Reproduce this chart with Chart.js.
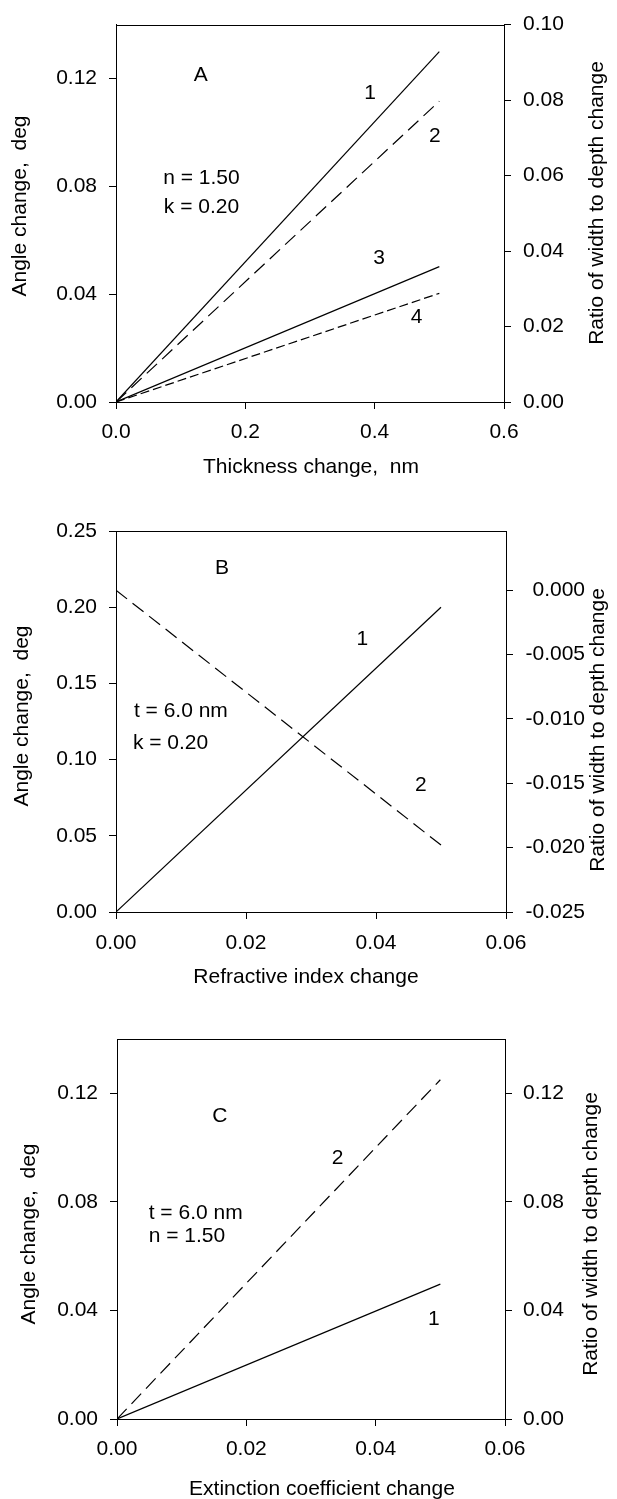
<!DOCTYPE html>
<html>
<head>
<meta charset="utf-8">
<script src="https://cdn.jsdelivr.net/npm/chart.js@4/dist/chart.umd.min.js"></script>
<style>
  html, body { margin: 0; padding: 0; background: #fff; }
  body { width: 617px; height: 1499px; overflow: hidden; position: relative; }
  canvas { position: absolute; left: 0; }
</style>
</head>
<body>
<canvas id="cA" width="617" height="500" style="top:0px"></canvas>
<canvas id="cB" width="617" height="500" style="top:500px"></canvas>
<canvas id="cC" width="617" height="499" style="top:1000px"></canvas>
<script>
// ===== Panel A : thickness change =====
const aX = [0, 0.5];
const aCurve1 = [0, 0.130];   // 1 – angle change (solid)
const aCurve2 = [0, 0.0797];  // 2 – ratio of width to depth change (dashed)
const aCurve3 = [0, 0.0502];  // 3 – angle change (solid)
const aCurve4 = [0, 0.0288];  // 4 – ratio of width to depth change (short dash)
const aXTicks = [0, 0.2, 0.4, 0.6];
const aLeftTicks = [0, 0.04, 0.08, 0.12];
const aRightTicks = [0, 0.02, 0.04, 0.06, 0.08, 0.10];

// ===== Panel B : refractive index change =====
const bX = [0, 0.05];
const bCurve1 = [0, 0.200];    // 1 – angle change (solid)
const bCurve2 = [0, -0.0198];  // 2 – ratio of width to depth change (dashed)
const bXTicks = [0, 0.02, 0.04, 0.06];
const bLeftTicks = [0, 0.05, 0.10, 0.15, 0.20, 0.25];
const bRightTicks = [-0.025, -0.020, -0.015, -0.010, -0.005, 0.000];

// ===== Panel C : extinction coefficient change =====
const cX = [0, 0.05];
const cCurve1 = [0, 0.0497];   // 1 – angle change (solid)
const cCurve2 = [0, 0.125];    // 2 – ratio of width to depth change (dashed)
const cXTicks = [0, 0.02, 0.04, 0.06];
const cLeftTicks = [0, 0.04, 0.08, 0.12];
const cRightTicks = [0, 0.04, 0.08, 0.12];

const FONT = '"Liberation Sans", Arial, Helvetica, sans-serif';
Chart.defaults.font.family = FONT;
Chart.defaults.font.size = 21;
Chart.defaults.color = '#000';

function pts(xs, ys) { return xs.map((x, i) => ({ x: x, y: ys[i] })); }

function axis(o) {
  return {
    type: 'linear',
    position: o.position,
    min: o.min, max: o.max,
    afterBuildTicks: s => { s.ticks = o.ticks.map(v => ({ value: v })); },
    afterFit: s => {
      if (o.width != null) s.width = o.width;
      if (o.height != null) s.height = o.height;
    },
    ticks: {
      callback: v => Number(v).toFixed(o.dec),
      color: '#000',
      font: { size: 21, family: FONT },
      padding: o.pad,
      crossAlign: o.crossAlign || 'near',
      autoSkip: false, maxRotation: 0, minRotation: 0
    },
    grid: { display: true, drawOnChartArea: false, drawTicks: true, tickLength: 7, color: '#000', lineWidth: 1 },
    border: { display: true, color: '#000', width: 1 },
    title: { display: false }
  };
}

function line(xs, ys, yAxisID, dash) {
  return {
    data: pts(xs, ys), yAxisID: yAxisID, xAxisID: 'x',
    borderColor: '#000', borderWidth: 1.2, borderDash: dash || [],
    pointRadius: 0, tension: 0, fill: false
  };
}

function decor(texts) {
  return {
    id: 'decor',
    afterDraw(chart) {
      const ctx = chart.ctx, a = chart.chartArea;
      ctx.save();
      ctx.strokeStyle = '#000'; ctx.lineWidth = 1;
      ctx.beginPath();
      ctx.moveTo(Math.round(a.left), Math.round(a.top) + 0.5);
      ctx.lineTo(Math.round(a.right) + 1, Math.round(a.top) + 0.5);
      ctx.stroke();
      ctx.fillStyle = '#000';
      ctx.font = '21px ' + FONT;
      ctx.textBaseline = 'middle';
      for (const t of texts) {
        let x = t.x, y = t.y;
        if (t.data) {
          x = chart.scales.x.getPixelForValue(t.x);
          y = chart.scales.yL.getPixelForValue(t.y);
        }
        ctx.save();
        ctx.translate(x, y);
        if (t.rot) ctx.rotate(t.rot);
        ctx.textAlign = t.align || 'center';
        ctx.fillText(t.text, 0, 0);
        ctx.restore();
      }
      ctx.restore();
    }
  };
}

const R = -Math.PI / 2;

function makeChart(id, cfg) {
  return new Chart(document.getElementById(id), {
    type: 'line',
    data: { datasets: cfg.datasets },
    options: {
      responsive: false, animation: false, devicePixelRatio: 1,
      layout: { padding: cfg.padding },
      plugins: { legend: { display: false }, tooltip: { enabled: false }, title: { display: false } },
      scales: cfg.scales
    },
    plugins: [decor(cfg.texts)]
  });
}

// Panel A
makeChart('cA', {
  padding: { top: 22, left: 0, right: 0, bottom: 0 },
  datasets: [
    line(aX, aCurve1, 'yL'),
    line(aX, aCurve2, 'yR', [14, 7]),
    line(aX, aCurve3, 'yL'),
    line(aX, aCurve4, 'yR', [9, 4])
  ],
  scales: {
    x: axis({ position: 'bottom', min: 0, max: 0.6, ticks: aXTicks, dec: 1, pad: 11, height: 98 }),
    yL: axis({ position: 'left', min: 0, max: 0.14, ticks: aLeftTicks, dec: 2, pad: 12, width: 116 }),
    yR: axis({ position: 'right', min: 0, max: 0.10, ticks: aRightTicks, dec: 2, pad: 12, width: 113 })
  },
  texts: [
    { data: true, x: 0.131, y: 0.1212, text: 'A' },
    { data: true, x: 0.073, y: 0.0829, text: 'n = 1.50', align: 'left' },
    { data: true, x: 0.074, y: 0.0722, text: 'k = 0.20', align: 'left' },
    { data: true, x: 0.393, y: 0.1146, text: '1' },
    { data: true, x: 0.493, y: 0.0987, text: '2' },
    { data: true, x: 0.407, y: 0.0534, text: '3' },
    { data: true, x: 0.465, y: 0.0316, text: '4' },
    { x: 311, y: 467, text: 'Thickness change,  nm' },
    { x: 20, y: 206, rot: R, text: 'Angle change,  deg' },
    { x: 597, y: 203, rot: R, text: 'Ratio of width to depth change' }
  ]
});

// Panel B
makeChart('cB', {
  padding: { top: 31, left: 0, right: 32, bottom: 0 },
  datasets: [
    line(bX, bCurve1, 'yL'),
    line(bX, bCurve2, 'yR', [14, 7])
  ],
  scales: {
    x: axis({ position: 'bottom', min: 0, max: 0.06, ticks: bXTicks, dec: 2, pad: 12, height: 88 }),
    yL: axis({ position: 'left', min: 0, max: 0.25, ticks: bLeftTicks, dec: 2, pad: 12, width: 116 }),
    yR: axis({ position: 'right', min: -0.025, max: 0.0046, ticks: bRightTicks, dec: 3, pad: 12, width: 79, crossAlign: 'far' })
  },
  texts: [
    { data: true, x: 0.0163, y: 0.2257, text: 'B' },
    { data: true, x: 0.00275, y: 0.1319, text: 't = 6.0 nm', align: 'left' },
    { data: true, x: 0.0026, y: 0.1107, text: 'k = 0.20', align: 'left' },
    { data: true, x: 0.0379, y: 0.1789, text: '1' },
    { data: true, x: 0.0469, y: 0.0833, text: '2' },
    { x: 306, y: 477, text: 'Refractive index change' },
    { x: 22, y: 216, rot: R, text: 'Angle change,  deg' },
    { x: 598, y: 230, rot: R, text: 'Ratio of width to depth change' }
  ]
});

// Panel C
makeChart('cC', {
  padding: { top: 39, left: 0, right: 0, bottom: 0 },
  datasets: [
    line(cX, cCurve1, 'yL'),
    line(cX, cCurve2, 'yR', [14, 7])
  ],
  scales: {
    x: axis({ position: 'bottom', min: 0, max: 0.06, ticks: cXTicks, dec: 2, pad: 11, height: 80 }),
    yL: axis({ position: 'left', min: 0, max: 0.14, ticks: cLeftTicks, dec: 2, pad: 12, width: 117 }),
    yR: axis({ position: 'right', min: 0, max: 0.14, ticks: cRightTicks, dec: 2, pad: 11, width: 112 })
  },
  texts: [
    { data: true, x: 0.0159, y: 0.1116, text: 'C' },
    { data: true, x: 0.0049, y: 0.0758, text: 't = 6.0 nm', align: 'left' },
    { data: true, x: 0.0049, y: 0.0672, text: 'n = 1.50', align: 'left' },
    { data: true, x: 0.0341, y: 0.0961, text: '2' },
    { data: true, x: 0.0490, y: 0.0367, text: '1' },
    { x: 322, y: 489, text: 'Extinction coefficient change' },
    { x: 29.5, y: 234, rot: R, text: 'Angle change,  deg' },
    { x: 591, y: 234, rot: R, text: 'Ratio of width to depth change' }
  ]
});
</script>
</body>
</html>
